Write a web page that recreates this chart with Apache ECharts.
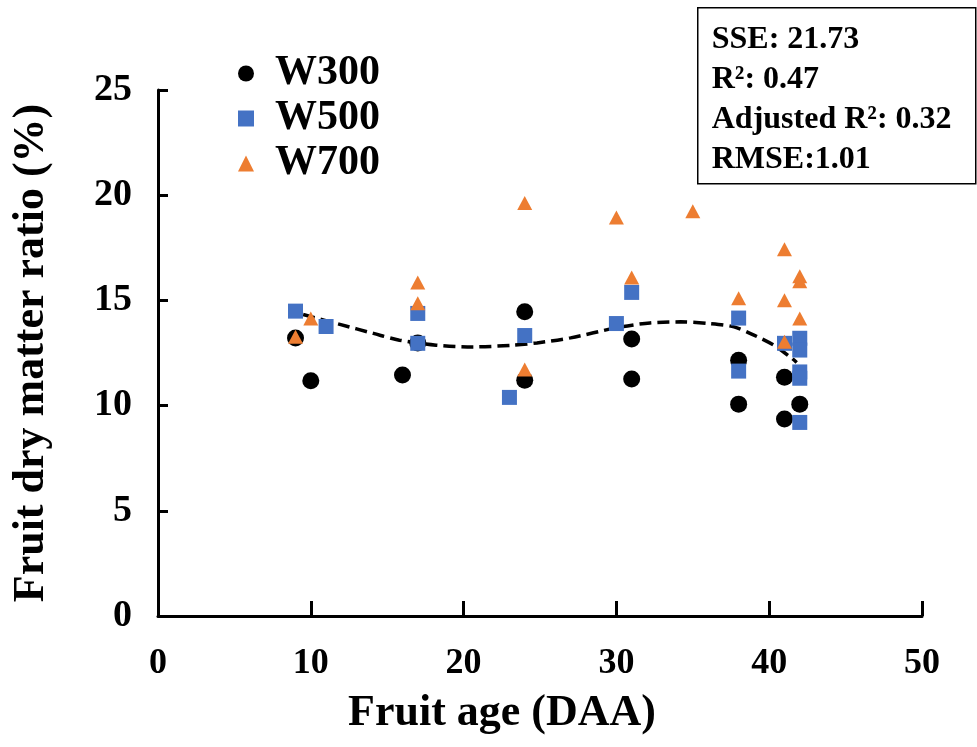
<!DOCTYPE html>
<html>
<head>
<meta charset="utf-8">
<script src="https://cdn.jsdelivr.net/npm/echarts@6/dist/echarts.min.js"></script>
<style>
  html, body { margin: 0; padding: 0; background: #ffffff; }
  #chart { width: 977px; height: 747px; }
</style>
</head>
<body>
<div id="chart"></div>
<script>
// Fruit dry matter ratio (%) against fruit age (days after anthesis)
var w300 = [
  [9, 13.21], [10, 11.18], [16, 11.45], [17, 12.97],
  [24, 14.46], [24, 11.21], [31, 13.16], [31, 11.26],
  [38, 12.16], [38, 10.07], [41, 11.35], [41, 9.36], [42, 10.07]
];
var w500 = [
  [9, 14.49], [11, 13.76], [17, 14.38], [17, 12.96],
  [23, 10.39], [24, 13.33], [30, 13.9], [31, 15.38],
  [38, 14.16], [38, 11.64], [41, 12.96],
  [42, 13.2], [42, 12.64], [42, 11.6], [42, 11.3], [42, 9.2]
];
var w700 = [
  [9, 13.27], [10, 14.14], [17, 15.85], [17, 14.86],
  [24, 19.63], [24, 11.72], [30, 18.94], [31, 16.09],
  [35, 19.24], [38, 15.1],
  [41, 17.43], [41, 15.01], [41, 13.03],
  [42, 16.15], [42, 15.91], [42, 14.14]
];
// fitted trend curve
var fitCurve = [
  [9.5, 14.33], [11.9, 13.86], [14.1, 13.43], [15.8, 13.11], [18.2, 12.87],
  [20.6, 12.79], [23.2, 12.87], [24.8, 12.98], [27, 13.22], [30, 13.7],
  [32.2, 13.93], [34.2, 13.98], [36.1, 13.9], [37.7, 13.74], [39, 13.35],
  [40.3, 12.87], [41.5, 12.24], [41.8, 12.05]
];
var xTicks = { min: 0, max: 50, interval: 10 };
var yTicks = { min: 0, max: 25, interval: 5 };
var fitStats = ['SSE: 21.73', 'R\u00b2: 0.47', 'Adjusted R\u00b2: 0.32', 'RMSE:1.01'];

var serif = '"Liberation Serif", "Times New Roman", "DejaVu Serif", serif';
var chart = echarts.init(document.getElementById('chart'), null, { renderer: 'canvas' });

var axisCommon = {
  axisLine: { show: true, onZero: false, lineStyle: { color: '#000', width: 3 } },
  splitLine: { show: false }
};

chart.setOption({
  backgroundColor: '#ffffff',
  animation: false,
  grid: { left: 158, right: 55, top: 90, bottom: 131, containLabel: false },
  xAxis: Object.assign({}, axisCommon, {
    type: 'value',
    min: xTicks.min, max: xTicks.max, interval: xTicks.interval,
    name: 'Fruit age (DAA)',
    nameLocation: 'middle',
    nameGap: 76,
    nameTextStyle: { fontFamily: serif, fontWeight: 'bold', color: '#000', fontSize: 44, padding: [0, 76, 0, 0] },
    axisTick: { show: true, inside: true, length: 15, lineStyle: { color: '#000', width: 3 } },
    axisLabel: { margin: 30, fontFamily: serif, fontWeight: 'bold', fontSize: 36, color: '#000' }
  }),
  yAxis: Object.assign({}, axisCommon, {
    type: 'value',
    min: yTicks.min, max: yTicks.max, interval: yTicks.interval,
    name: 'Fruit dry matter ratio (%)',
    nameLocation: 'middle',
    nameRotate: 90,
    nameGap: 104,
    nameTextStyle: { fontFamily: serif, fontWeight: 'bold', color: '#000', fontSize: 44 },
    axisTick: { show: true, inside: true, length: 10, lineStyle: { color: '#000', width: 3 } },
    axisLabel: { margin: 26, fontFamily: serif, fontWeight: 'bold', fontSize: 38, color: '#000' }
  }),
  legend: {
    orient: 'vertical',
    left: 233,
    top: 47,
    itemWidth: 16,
    itemHeight: 16,
    itemGap: 2,
    data: [
      { name: 'W300', icon: 'circle' },
      { name: 'W500', icon: 'rect' },
      { name: 'W700', icon: 'triangle' }
    ],
    textStyle: { fontFamily: serif, fontWeight: 'bold', fontSize: 42, color: '#000', lineHeight: 43, padding: [0, 0, 0, 16] }
  },
  series: [
    {
      name: 'fit',
      type: 'line',
      data: fitCurve,
      smooth: 0.3,
      showSymbol: false,
      symbol: 'none',
      lineStyle: { color: '#000', width: 3.5, type: [12, 6] },
      z: 1,
      silent: true
    },
    {
      name: 'W300', type: 'scatter', data: w300,
      symbol: 'circle', symbolSize: 17,
      itemStyle: { color: '#000000', opacity: 1 }, z: 2
    },
    {
      name: 'W500', type: 'scatter', data: w500,
      symbol: 'rect', symbolSize: 15,
      itemStyle: { color: '#4472C4', opacity: 1 }, z: 3
    },
    {
      name: 'W700', type: 'scatter', data: w700,
      symbol: 'triangle', symbolSize: [15, 14],
      itemStyle: { color: '#ED7D31', opacity: 1 }, z: 4
    }
  ],
  graphic: [
    {
      type: 'group',
      left: 697,
      top: 7,
      children: [
        {
          type: 'rect',
          shape: { x: 0, y: 0, width: 278, height: 176 },
          style: { fill: '#fff', stroke: '#000', lineWidth: 1.5 }
        },
        {
          type: 'text',
          left: 14,
          top: 12,
          style: {
            text: fitStats.join('\n'),
            font: 'bold 32px ' + serif,
            lineHeight: 40,
            fill: '#000'
          }
        }
      ]
    }
  ]
});
</script>
</body>
</html>
